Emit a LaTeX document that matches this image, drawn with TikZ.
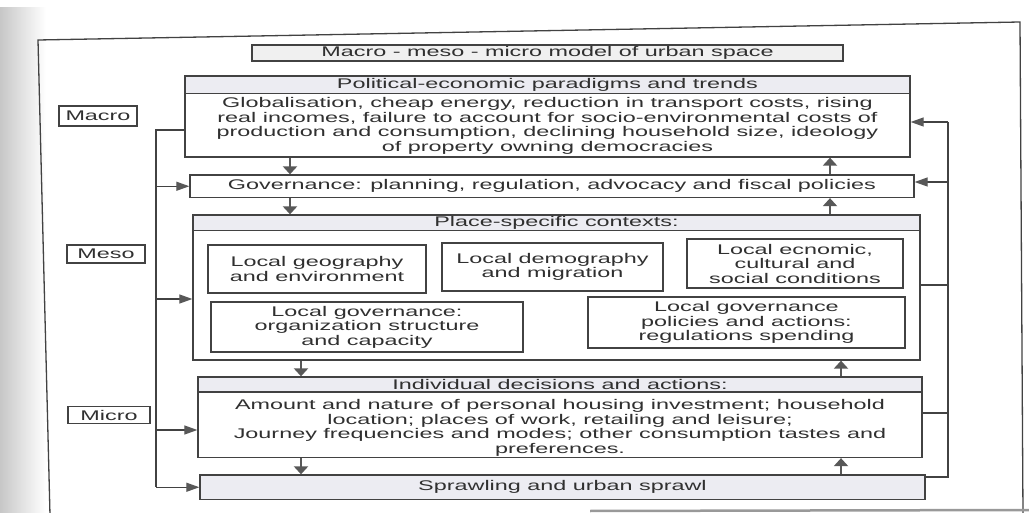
\documentclass[tikz,border=0pt]{standalone}
\usepackage{fontspec}
\setmainfont[FakeStretch=1.67]{Liberation Sans}
\usetikzlibrary{arrows.meta}
\definecolor{lc}{RGB}{66,66,66}
\definecolor{tc}{RGB}{48,48,48}
\definecolor{hf}{RGB}{236,236,242}
\definecolor{ac}{RGB}{88,88,88}
\begin{document}
\begin{tikzpicture}[x=1pt,y=-1pt,
  every node/.style={font=\fontsize{14}{14.5}\selectfont, text=tc},
  bx/.style={draw=lc, line width=1.3pt, inner sep=0pt, align=center},
  hd/.style={bx, fill=hf},
  tx/.style={inner sep=0pt, align=center},
  ln/.style={draw=lc, line width=1.2pt},
  la/.style={ln, -{Triangle[length=13pt,width=9pt,color=ac,fill=ac]}},
  ba/.style={draw=ac, line width=2.6pt, -{Triangle[length=8pt,width=14pt]}}]
\useasboundingbox (0,0) rectangle (1029,513);
% scan shading at left
\shade[left color=black!22, right color=white] (0,8) rectangle (46,513);
% outer frame
\draw[draw=lc, line width=1.3pt] (50,515) -- (38,40) -- (1020,22) -- (1023,515);
\draw[draw=black!40, line width=2.5pt] (590,511) -- (1029,510);

% title
\node[bx, fill=black!6, minimum width=591pt, minimum height=16pt] (title) at (547.5,53) {Macro - meso - micro model of urban space};

% level labels
\node[bx, minimum width=78pt, minimum height=20pt] (macro) at (98,116) {Macro};
\node[bx, minimum width=78pt, minimum height=18pt] (meso) at (106,254) {Meso};
\node[bx, minimum width=82pt, minimum height=17pt] (micro) at (109,415) {Micro};

% political-economic
\node[bx, minimum width=725pt, minimum height=81pt] (pol) at (547.5,116.5) {};
\node[hd, minimum width=725pt, minimum height=17.5pt, anchor=north] (polh) at (pol.north) {Political-economic paradigms and trends};
\node[tx] (polt) at (547.5,126) {Globalisation, cheap energy, reduction in transport costs, rising\\real incomes, failure to account for socio-environmental costs of\\production and consumption, declining household size, ideology\\of property owning democracies};

% governance
\node[bx, minimum width=724pt, minimum height=22.5pt] (gov) at (552,186.25) {Governance: planning, regulation, advocacy and fiscal policies};

% place-specific
\node[bx, minimum width=727pt, minimum height=145pt] (plc) at (556.5,287.5) {};
\node[hd, minimum width=727pt, minimum height=15.5pt, anchor=north] (plch) at (plc.north) {Place-specific contexts:};
\node[bx, minimum width=218pt, minimum height=48pt] (geo) at (317,269) {Local geography\\and environment};
\node[bx, minimum width=221pt, minimum height=48pt] (demo) at (552.5,267) {Local demography\\and migration};
\node[bx, minimum width=216pt, minimum height=49pt] (econ) at (795,263.5) {Local ecnomic,\\cultural and\\social conditions};
\node[bx, minimum width=312pt, minimum height=50pt] (lgo) at (367,327) {Local governance:\\organization structure\\and capacity};
\node[bx, minimum width=317pt, minimum height=51pt] (lgp) at (746.5,322.5) {Local governance\\policies and actions:\\regulations spending};

% individual
\node[bx, minimum width=724pt, minimum height=80.5pt] (ind) at (560,417.25) {};
\node[hd, minimum width=724pt, minimum height=15pt, anchor=north] (indh) at (ind.north) {Individual decisions and actions:};
\node[tx] (indt) at (560,428) {Amount and nature of personal housing investment; household\\location; places of work, retailing and leisure;\\Journey frequencies and modes; other consumption tastes and\\preferences.};

% sprawl
\node[bx, fill=hf, minimum width=725pt, minimum height=24.5pt] (spr) at (562.5,487.25) {Sprawling and urban sprawl};

% vertical arrows between boxes
\coordinate (cA) at (290,0);
\coordinate (cB) at (301,0);
\coordinate (cC) at (830,0);
\coordinate (cD) at (841,0);
\draw[ba] (cA |- pol.south) -- (cA |- gov.north);
\draw[ba] (cA |- gov.south) -- (cA |- plc.north);
\draw[ba] (cB |- plc.south) -- (cB |- ind.north);
\draw[ba] (cB |- ind.south) -- (cB |- spr.north);
\draw[ba] (cC |- gov.north) -- (cC |- pol.south);
\draw[ba] (cC |- plc.north) -- (cC |- gov.south);
\draw[ba] (cD |- ind.north) -- (cD |- plc.south);
\draw[ba] (cD |- spr.north) -- (cD |- ind.south);

% left feed-forward line
\coordinate (L0) at (156,130);
\coordinate (L2) at (156,299);
\coordinate (L3) at (156,430);
\draw[ln] (pol.west |- L0) -- (L0) -- (L0 |- spr.west);
\draw[la] (L0 |- spr.west) -- (spr.west);
\draw[la] (L0 |- gov.west) -- (gov.west);
\draw[la] (L2) -- (L2 -| plc.west);
\draw[la] (L3) -- (L3 -| ind.west);

% right feedback line
\coordinate (R0) at (948,122);
\coordinate (R1) at (948,182);
\coordinate (R2) at (948,285);
\coordinate (R3) at (948,413);
\coordinate (R4) at (948,477);
\draw[ln] (spr.east |- R4) -- (R4) -- (R0);
\draw[la] (R0) -- (R0 -| pol.east);
\draw[la] (R1) -- (R1 -| gov.east);
\draw[ln] (plc.east |- R2) -- (R2);
\draw[ln] (ind.east |- R3) -- (R3);
\end{tikzpicture}
\end{document}
